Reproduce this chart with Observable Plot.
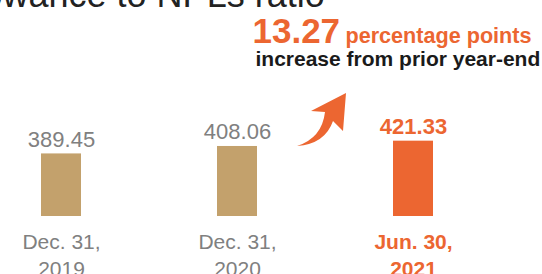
<!DOCTYPE html>
<html>
<head>
<meta charset="utf-8">
<script src="https://cdn.jsdelivr.net/npm/d3@7"></script>
<script src="https://cdn.jsdelivr.net/npm/@observablehq/plot@0.6"></script>
<style>
  html, body { margin: 0; padding: 0; background: #fff; }
  #chart { width: 542px; height: 274px; overflow: hidden; }
</style>
</head>
<body>
<div id="chart"></div>
<script>
// ---- data ----
const categories = ["Dec. 31,\n2019", "Dec. 31,\n2020", "Jun. 30,\n2021"];
const ratios = [389.45, 408.06, 421.33];
const valueLabels = ["389.45", "408.06", "421.33"];
const titleText = "Allowance to NPLs ratio";
const changeValue = "13.27";
const changeUnit = "percentage points";
const changeNote = "increase from prior year-end";

const data = categories.map((c, i) => ({
  cat: c, value: ratios[i], label: valueLabels[i], current: i === categories.length - 1
}));

const TAN = "#c3a16c";
const ORANGE = "#ec6631";
const GRAY = "#808080";
const FONT = "Liberation Sans, Arial, Helvetica, sans-serif";
const yDomain = [233, 483];

// custom arrow annotation mark, anchored between bar 2 and bar 3
function arrowMark(index, scales) {
  const x = scales.x, y = scales.y;
  const bw = x.bandwidth ? x.bandwidth() : 0;
  const ax = (x(categories[1]) + bw + x(categories[2])) / 2;
  const ay = y(ratios[1]);
  const p = (dx, dy) => `${ax + dx},${ay + dy}`;
  const d = `M${p(-28, 0)} Q${p(-3, -8)} ${p(0, -34)} L${p(-14, -35)} L${p(21, -53)} L${p(18, -15)} L${p(8, -25)} Q${p(0, -2)} ${p(-28, 0)} Z`;
  const path = document.createElementNS("http://www.w3.org/2000/svg", "path");
  path.setAttribute("d", d);
  path.setAttribute("fill", ORANGE);
  return path;
}

const plot = Plot.plot({
  width: 542,
  height: 274,
  marginLeft: 40,
  marginRight: 109,
  marginTop: 116,
  marginBottom: 58,
  style: { fontFamily: FONT, background: "#fff", overflow: "visible" },
  x: { domain: categories, paddingInner: 0.773, paddingOuter: 0, axis: null },
  y: { domain: yDomain, axis: null },
  marks: [
    Plot.barY(data, {
      x: "cat", y1: yDomain[0], y2: "value",
      fill: d => d.current ? ORANGE : TAN
    }),
    // value labels
    Plot.text(data.filter(d => !d.current), {
      x: "cat", y: "value", text: "label", dy: -7, lineAnchor: "bottom",
      fontSize: 22, fill: GRAY
    }),
    Plot.text(data.filter(d => d.current), {
      x: "cat", y: "value", text: "label", dy: -7, lineAnchor: "bottom",
      fontSize: 22, fontWeight: "bold", fill: ORANGE
    }),
    // category labels
    Plot.text(data.filter(d => !d.current), {
      x: "cat", y: yDomain[0], text: "cat", dy: 14, lineAnchor: "top",
      fontSize: 21, lineHeight: 1.27, fill: GRAY
    }),
    Plot.text(data.filter(d => d.current), {
      x: "cat", y: yDomain[0], text: "cat", dy: 14, lineAnchor: "top",
      fontSize: 21, lineHeight: 1.27, fontWeight: "bold", fill: ORANGE
    }),
    // title (cropped at top-left as in the reference)
    Plot.text([titleText], {
      frameAnchor: "top-left", text: d => d, textAnchor: "start", lineAnchor: "bottom",
      dx: -98, dy: -110, fontSize: 36, fill: "#222"
    }),
    // annotation
    Plot.text([changeValue], {
      frameAnchor: "top-left", text: d => d, textAnchor: "start", lineAnchor: "bottom",
      dx: 212, dy: -74, fontSize: 35, fontWeight: "bold", fill: ORANGE
    }),
    Plot.text([changeUnit], {
      frameAnchor: "top-left", text: d => d, textAnchor: "start", lineAnchor: "bottom",
      dx: 305, dy: -74, fontSize: 21.6, fontWeight: "bold", fill: ORANGE
    }),
    Plot.text([changeNote], {
      frameAnchor: "top-left", text: d => d, textAnchor: "start", lineAnchor: "bottom",
      dx: 215, dy: -51, fontSize: 21, fontWeight: "bold", fill: "#1a1a1a"
    }),
    arrowMark
  ]
});
document.getElementById("chart").appendChild(plot);
</script>
</body>
</html>
